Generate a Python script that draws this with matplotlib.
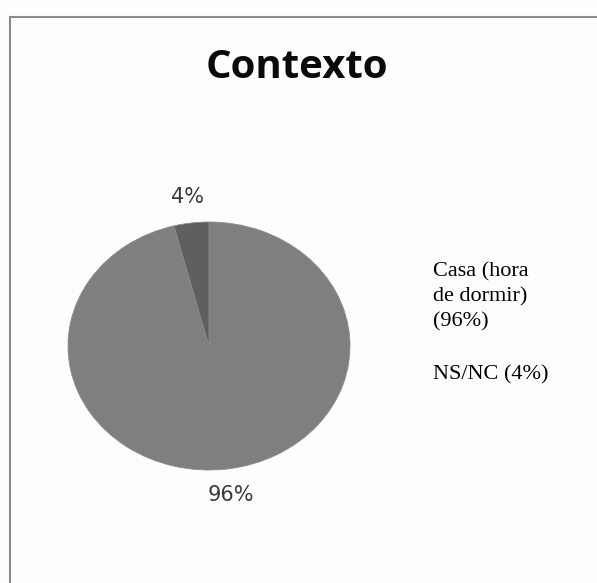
import matplotlib
matplotlib.use("Agg")
import matplotlib.pyplot as plt
from matplotlib.patches import Rectangle

categories = ["Casa (hora\nde dormir)\n(96%)", "NS/NC (4%)"]
values = [96, 4]
colors = ["#7f7f7f", "#5f5f5f"]
title = "Contexto"

W, H, DPI = 597, 583, 100
fig = plt.figure(figsize=(W / DPI, H / DPI), dpi=DPI)
fig.patch.set_facecolor("#fdfdfd")

# chart frame (runs off the right and bottom edges)
fig.patches.append(Rectangle((10 / W, -0.05), 1.1, 1 - 17 / H + 0.05,
                             transform=fig.transFigure, fill=False,
                             edgecolor="#8c8c8c", linewidth=1.5))

fig.text(297 / W, 1 - 67 / H, title, ha="center", va="center",
         fontsize=29, fontweight="bold", family="Open Sans", color="#0a0a0a")

# pie area (slightly flattened ellipse)
ax = fig.add_axes([68 / W, 1 - 470 / H, 282 / W, 248 / H])
wedges, texts = ax.pie(values, colors=colors, startangle=90, counterclock=False,
                       labels=[f"{v}%" for v in values], labeldistance=1.215,
                       wedgeprops=dict(edgecolor="#8a8a8a", linewidth=0.6),
                       textprops=dict(fontsize=15, color="#3a3a3a",
                                      family="DejaVu Sans"))
for t in texts:
    t.set_ha("center")
    t.set_va("center")
ax.set_aspect("auto")
ax.set_xlim(-1, 1)
ax.set_ylim(-1, 1)
ax.axis("off")

# legend as plain text entries
fig.text(433 / W, 1 - 297 / H, categories[0], ha="left", va="center",
         fontsize=16, family="Liberation Serif", color="#000000",
         linespacing=1.38)
fig.text(433 / W, 1 - 375 / H, categories[1], ha="left", va="center",
         fontsize=16, family="Liberation Serif", color="#000000")

fig.savefig("out.png", dpi=DPI, facecolor=fig.get_facecolor())
